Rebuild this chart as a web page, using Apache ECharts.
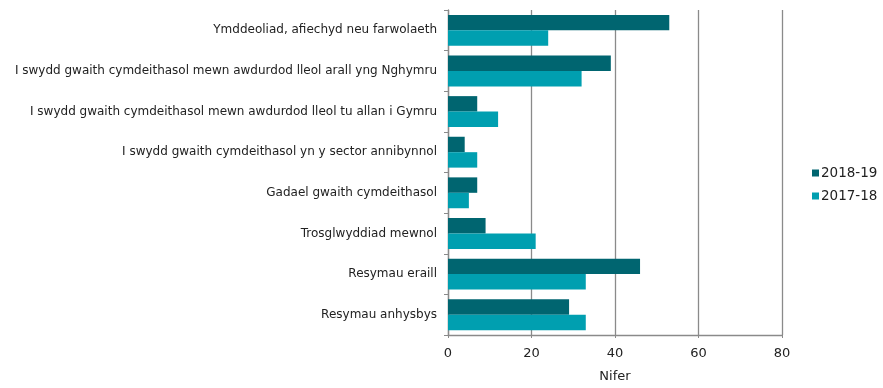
<!DOCTYPE html>
<html>
<head>
<meta charset="utf-8">
<script src="https://cdn.jsdelivr.net/npm/echarts@6/dist/echarts.min.js"></script>
<style>html,body{margin:0;padding:0;background:#fff}#c{width:883px;height:388px}</style>
</head>
<body>
<div id="c"></div>
<script>
const categories = [
  "Ymddeoliad, afiechyd neu farwolaeth",
  "I swydd gwaith cymdeithasol mewn awdurdod lleol arall yng Nghymru",
  "I swydd gwaith cymdeithasol mewn awdurdod lleol tu allan i Gymru",
  "I swydd gwaith cymdeithasol yn y sector annibynnol",
  "Gadael gwaith cymdeithasol",
  "Trosglwyddiad mewnol",
  "Resymau eraill",
  "Resymau anhysbys"
];
const values2018_19 = [53, 39, 7, 4, 7, 9, 46, 29];
const values2017_18 = [24, 32, 12, 7, 5, 21, 33, 33];
const xTicks = [0, 20, 40, 60, 80];
const xTitle = "Nifer";

const font = "Verdana, 'DejaVu Sans', sans-serif";
const chart = echarts.init(document.getElementById('c'), null, {renderer: 'canvas'});
chart.setOption({
  animation: false,
  textStyle: {fontFamily: font},
  grid: {left: 448, right: 101, top: 10, bottom: 49, containLabel: false},
  legend: {
    orient: 'vertical',
    left: 812, top: 166, padding: 0,
    itemWidth: 7, itemHeight: 7, itemGap: 9,
    icon: 'rect',
    textStyle: {fontFamily: font, fontSize: 13.5, lineHeight: 14, color: '#222', padding: [0,0,0,-3]},
    data: ['2018-19', '2017-18']
  },
  xAxis: {
    type: 'value',
    min: xTicks[0], max: xTicks[xTicks.length-1], interval: 20,
    name: xTitle, nameLocation: 'middle', nameGap: 35,
    nameTextStyle: {fontFamily: font, fontSize: 13, color: '#222'},
    axisLine: {show: true, lineStyle: {color: '#8a8a8a', width: 1.3}},
    axisTick: {show: true, length: 3, lineStyle: {color: '#8a8a8a'}},
    axisLabel: {fontFamily: font, fontSize: 13, color: '#222', margin: 12},
    splitLine: {show: true, lineStyle: {color: '#8a8a8a', width: 1.3}}
  },
  yAxis: {
    type: 'category', inverse: true, data: categories,
    axisLine: {show: true, lineStyle: {color: '#8a8a8a', width: 1.3}},
    axisTick: {show: true, length: 4, lineStyle: {color: '#8a8a8a'}},
    axisLabel: {fontFamily: font, fontSize: 12, color: '#222', margin: 11}
  },
  series: [
    {name: '2018-19', type: 'bar', data: values2018_19, barGap: '0%', barCategoryGap: '24%',
     itemStyle: {color: '#006570'}},
    {name: '2017-18', type: 'bar', data: values2017_18, barGap: '0%', barCategoryGap: '24%',
     itemStyle: {color: '#009fb0'}}
  ]
});
</script>
</body>
</html>
